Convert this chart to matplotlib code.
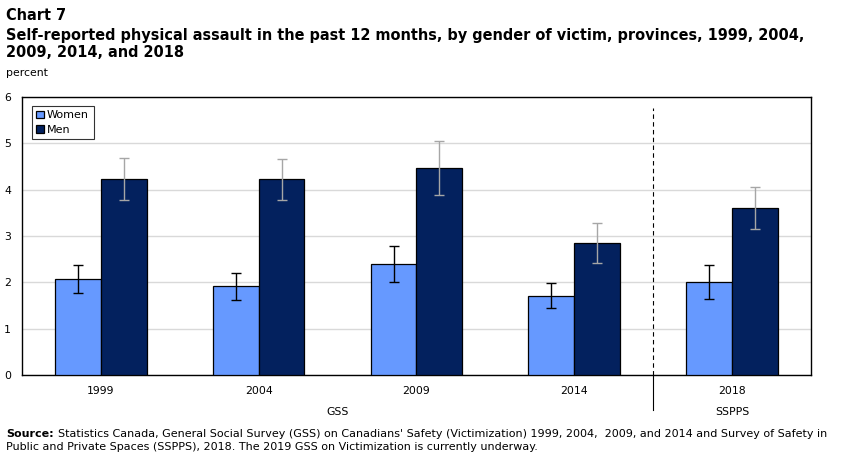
import matplotlib.pyplot as plt
import numpy as np

# data
years = ['1999', '2004', '2009', '2014', '2018']
women = [2.07, 1.92, 2.40, 1.70, 2.00]
women_low = [1.76, 1.61, 2.00, 1.44, 1.63]
women_high = [2.37, 2.20, 2.79, 1.98, 2.37]
men = [4.22, 4.22, 4.46, 2.84, 3.60]
men_low = [3.78, 3.78, 3.88, 2.41, 3.15]
men_high = [4.68, 4.66, 5.05, 3.28, 4.05]
surveys = ['GSS', 'SSPPS']

plt.rcParams['font.family'] = 'DejaVu Sans'

fig = plt.figure(figsize=(8.51, 4.55), dpi=100)
ax = fig.add_axes([0.0259, 0.1758, 0.927, 0.611])

x = np.arange(len(years))
w = 0.29
women_err = [np.array(women) - np.array(women_low), np.array(women_high) - np.array(women)]
men_err = [np.array(men) - np.array(men_low), np.array(men_high) - np.array(men)]

ax.bar(x - w / 2, women, w, color='#6699ff', edgecolor='black', linewidth=0.9, label='Women', zorder=3)
ax.bar(x + w / 2, men, w, color='#03215e', edgecolor='black', linewidth=0.9, label='Men', zorder=3)
ax.errorbar(x - w / 2, women, yerr=women_err, fmt='none', ecolor='black', elinewidth=1, capsize=3.5, capthick=1, zorder=4)
ax.errorbar(x + w / 2, men, yerr=men_err, fmt='none', ecolor='#a6a6a6', elinewidth=1, capsize=3.5, capthick=1, zorder=4)

ax.set_xlim(-0.5, len(years) - 0.5)
ax.set_ylim(0, 6)
ax.set_yticks(range(7))
ax.yaxis.grid(True, color='#d9d9d9', linewidth=1, zorder=0)
ax.set_axisbelow(True)
ax.tick_params(axis='both', length=0, labelsize=7.8)
ax.tick_params(axis='y', pad=8)
ax.tick_params(axis='x', pad=8)
ax.set_xticks(x)
ax.set_xticklabels(years)
for s in ax.spines.values():
    s.set_linewidth(1)

# survey divider between 2014 and 2018
div = 3.5
ax.plot([div, div], [0, 5.76], color='black', linestyle=(0, (4, 3)), linewidth=0.8, zorder=2)
ax.plot([div, div], [0, -0.76], color='black', linewidth=0.8, clip_on=False)
ax.text(1.5, -0.79, surveys[0], ha='center', va='center', fontsize=7.8)
ax.text(4, -0.79, surveys[1], ha='center', va='center', fontsize=7.8)

leg = ax.legend(loc='upper left', bbox_to_anchor=(0.012, 0.968), fontsize=8, frameon=True,
                fancybox=False, edgecolor='black', handlelength=0.7, handleheight=0.7,
                handletextpad=0.3, borderpad=0.4, labelspacing=0.4, borderaxespad=0)
leg.get_frame().set_linewidth(0.8)

# titles
fig.text(0.007, 0.965, 'Chart 7', fontsize=10.45, fontweight='bold', va='center')
fig.text(0.007, 0.922, 'Self-reported physical assault in the past 12 months, by gender of victim, provinces, 1999, 2004,',
         fontsize=10.45, fontweight='bold', va='center')
fig.text(0.007, 0.885, '2009, 2014, and 2018', fontsize=10.45, fontweight='bold', va='center')
fig.text(0.007, 0.84, 'percent', fontsize=7.8, va='center')

# source note, bold label followed by normal text
src = fig.text(0.007, 0.046, 'Source:', fontsize=8, fontweight='bold', va='center')
fig.add_artist(plt.Annotation("Statistics Canada, General Social Survey (GSS) on Canadians' Safety (Victimization) 1999, 2004,  2009, and 2014 and Survey of Safety in",
                              xy=(1, 0.5), xycoords=src, xytext=(3, 0), textcoords='offset points',
                              fontsize=8, va='center', annotation_clip=False))
fig.text(0.007, 0.017, 'Public and Private Spaces (SSPPS), 2018. The 2019 GSS on Victimization is currently underway.',
         fontsize=8, va='center')

fig.savefig('out.png', dpi=100)
